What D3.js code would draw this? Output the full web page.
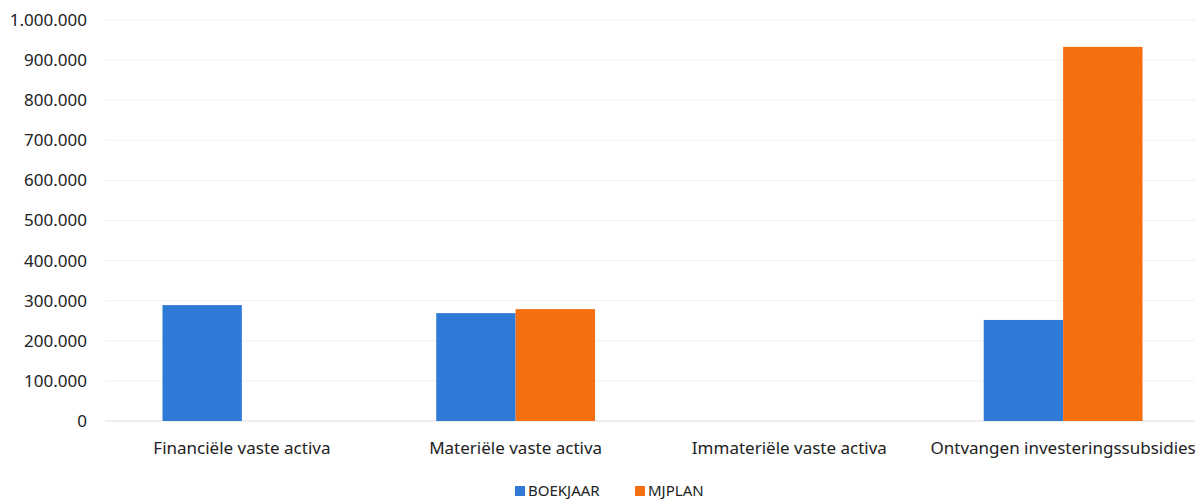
<!DOCTYPE html>
<html>
<head>
<meta charset="utf-8">
<script src="https://cdn.jsdelivr.net/npm/d3@7"></script>
<style>
  body { margin: 0; background: #fff; }
  svg text { font-family: "Noto Sans", "Open Sans", sans-serif; fill: #222; }
</style>
</head>
<body>
<svg id="chart" width="1195" height="499"></svg>
<script>
const categories = ['Financiële vaste activa', 'Materiële vaste activa', 'Immateriële vaste activa', 'Ontvangen investeringssubsidies'];
const seriesNames = ['BOEKJAAR', 'MJPLAN'];
const boekjaar = [289000, 269000, 0, 252000];
const mjplan = [0, 279000, 0, 933000];
const yTicks = [0, 100000, 200000, 300000, 400000, 500000, 600000, 700000, 800000, 900000, 1000000];
const colors = ['#2f7ad6', '#f56e10'];

const svg = d3.select('#chart');
const margin = { top: 20, right: -5, bottom: 78, left: 105 };
const width = 1195 - margin.left - margin.right;
const height = 499 - margin.top - margin.bottom;

const g = svg.append('g').attr('transform', `translate(${margin.left},${margin.top})`);

const nl = d3.formatLocale({ decimal: ',', thousands: '.', grouping: [3], currency: ['€', ''] });
const fmt = nl.format(',.0f');

const x0 = d3.scaleBand().domain(categories).range([0, width]).paddingInner(0.42).paddingOuter(0.21);
const x1 = d3.scaleBand().domain(seriesNames).range([0, x0.bandwidth()]);
const y = d3.scaleLinear().domain([0, 1000000]).range([height, 0]);

// gridlines
g.selectAll('.grid')
  .data(yTicks)
  .enter()
  .append('line')
  .attr('class', 'grid')
  .attr('x1', 0)
  .attr('x2', width)
  .attr('y1', d => y(d))
  .attr('y2', d => y(d))
  .attr('stroke', d => d === 0 ? '#dddddd' : '#f0f0f0')
  .attr('stroke-width', 1);

// y axis labels
const yAxis = g.append('g')
  .call(d3.axisLeft(y).tickValues(yTicks).tickFormat(fmt).tickSize(0).tickPadding(18));
yAxis.select('.domain').remove();
yAxis.selectAll('text').style('font-size', '17px').attr('fill', '#222');

// x axis labels
const xAxis = g.append('g')
  .attr('transform', `translate(0,${height})`)
  .call(d3.axisBottom(x0).tickSize(0).tickPadding(21));
xAxis.select('.domain').remove();
xAxis.selectAll('text').style('font-size', '17px').attr('fill', '#222');

// bars
const rows = categories.map((c, i) => ({ cat: c, values: [boekjaar[i], mjplan[i]] }));
g.selectAll('.group')
  .data(rows)
  .enter()
  .append('g')
  .attr('class', 'group')
  .attr('transform', d => `translate(${x0(d.cat)},0)`)
  .selectAll('rect')
  .data(d => d.values.map((v, j) => ({ key: seriesNames[j], value: v, j })))
  .enter()
  .append('rect')
  .attr('x', d => x1(d.key))
  .attr('y', d => y(d.value))
  .attr('width', x1.bandwidth())
  .attr('height', d => height - y(d.value))
  .attr('fill', d => colors[d.j]);

// legend
const legend = svg.append('g').attr('transform', 'translate(515,491)');
const items = legend.selectAll('.item')
  .data(seriesNames)
  .enter()
  .append('g')
  .attr('class', 'item')
  .attr('transform', (d, i) => `translate(${i * 120},0)`);
items.append('rect')
  .attr('x', 0).attr('y', -5).attr('width', 10).attr('height', 10)
  .attr('fill', (d, i) => colors[i]);
items.append('text')
  .attr('x', 13).attr('y', 0).attr('dy', '0.35em')
  .style('font-size', '15px')
  .text(d => d);
</script>
</body>
</html>
